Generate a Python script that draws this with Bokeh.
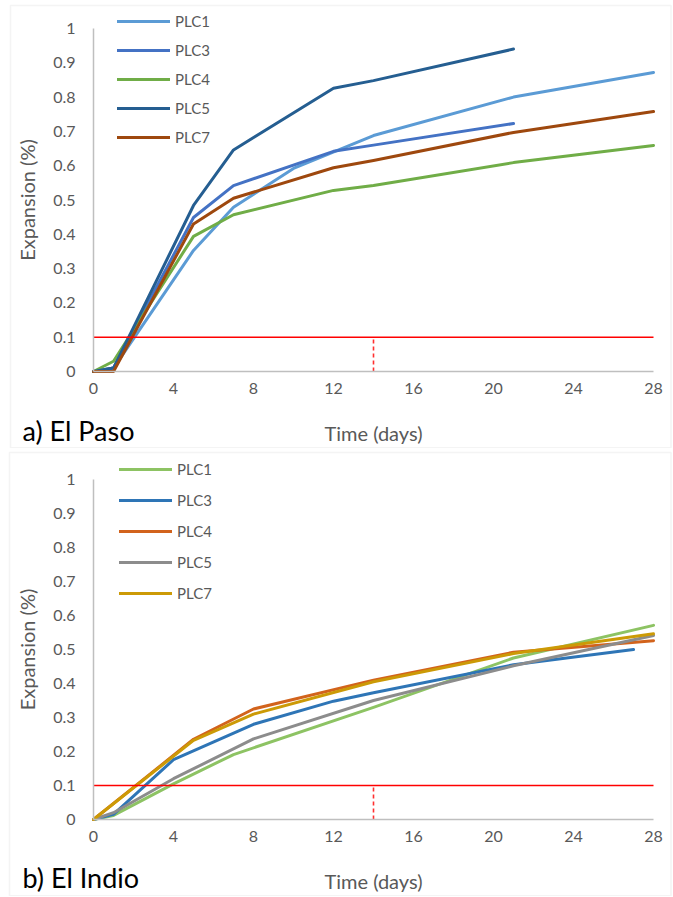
from bokeh.plotting import figure
from bokeh.models import (Range1d, FixedTicker, CustomJSTickFormatter, Label,
                          Legend, LegendItem, BoxAnnotation)
from bokeh.layouts import column
from bokeh.embed import file_html
from bokeh.resources import INLINE

# ---------------- data ----------------
series_names = ["PLC1", "PLC3", "PLC4", "PLC5", "PLC7"]

# a) El Paso
paso_days = {
    "PLC1": [0, 1, 5, 7, 10, 14, 21, 28],
    "PLC3": [0, 1, 5, 7, 12, 14, 21],
    "PLC4": [0, 1, 5, 7, 12, 14, 21, 28],
    "PLC5": [0, 1, 5, 7, 12, 14, 21],
    "PLC7": [0, 1, 5, 7, 12, 14, 21, 28],
}
paso_vals = {
    "PLC1": [0, 0.01, 0.353, 0.479, 0.592, 0.688, 0.80, 0.872],
    "PLC3": [0, 0.01, 0.449, 0.542, 0.642, 0.66, 0.723],
    "PLC4": [0, 0.03, 0.394, 0.457, 0.528, 0.542, 0.609, 0.659],
    "PLC5": [0, 0.01, 0.484, 0.646, 0.826, 0.848, 0.94],
    "PLC7": [0, 0, 0.43, 0.505, 0.594, 0.615, 0.697, 0.758],
}
paso_colors = ["#5B9BD5", "#4472C4", "#70AD47", "#255E91", "#9E480E"]

# b) El Indio
indio_days = {
    "PLC1": [0, 1, 4, 7, 14, 21, 28],
    "PLC3": [0, 1, 4, 8, 12, 14, 21, 27],
    "PLC4": [0, 5, 8, 14, 21, 28],
    "PLC5": [0, 1, 4, 8, 14, 21, 28],
    "PLC7": [0, 5, 8, 14, 21, 28],
}
indio_vals = {
    "PLC1": [0, 0.012, 0.105, 0.191, 0.33, 0.475, 0.571],
    "PLC3": [0, 0.015, 0.176, 0.28, 0.348, 0.373, 0.455, 0.50],
    "PLC4": [0, 0.236, 0.325, 0.41, 0.492, 0.526],
    "PLC5": [0, 0.02, 0.12, 0.237, 0.35, 0.452, 0.541],
    "PLC7": [0, 0.233, 0.31, 0.405, 0.488, 0.546],
}
indio_colors = ["#8DC363", "#2E75B6", "#D2631C", "#8C8C8C", "#CC9A06"]

x_ticks = [0, 4, 8, 12, 16, 20, 24, 28]
y_ticks = [0, 0.1, 0.2, 0.3, 0.4, 0.5, 0.6, 0.7, 0.8, 0.9, 1.0]
limit_expansion = 0.1
limit_day = 14

FONT = "Lato"
GREY_TXT = "#595959"
W = 672
FL, FW = 93, 560   # px position of day 0 / px width of 0..28 days


def make_panel(title, days, vals, colors, height, top_px, zero_px,
               leg_x, leg_top, leg_spacing, box_top, box_left, title_dy):
    xs = x_ticks[-1] / FW              # days per px
    ys = 1.0 / (zero_px - top_px)      # expansion per px
    x_range = Range1d(-FL * xs, (W - FL) * xs)
    y_range = Range1d(-(height - zero_px) * ys, zero_px * ys)

    p = figure(width=W, height=height, x_range=x_range, y_range=y_range,
               output_backend="svg", toolbar_location=None,
               min_border=0, min_border_left=0, min_border_right=0,
               min_border_top=0, min_border_bottom=0)
    p.title.text = ""
    p.grid.visible = False
    p.outline_line_color = None
    p.background_fill_color = "white"
    p.border_fill_color = "white"

    for ax in (p.xaxis[0], p.yaxis[0]):
        ax.fixed_location = 0
        ax.axis_line_color = "#BFBFBF"
        ax.axis_line_width = 1.5
        ax.major_tick_line_color = None
        ax.minor_tick_line_color = None
        ax.major_tick_out = 0
        ax.major_tick_in = 0
        ax.major_label_text_font = FONT
        ax.major_label_text_font_size = "16px"
        ax.major_label_text_color = GREY_TXT
        ax.axis_label_text_font = FONT
        ax.axis_label_text_font_size = "20px"
        ax.axis_label_text_font_style = "normal"
        ax.axis_label_text_color = GREY_TXT

    p.xaxis.bounds = (x_ticks[0], x_ticks[-1])
    p.yaxis.bounds = (y_ticks[0], y_ticks[-1])
    p.xaxis.ticker = FixedTicker(ticks=x_ticks)
    p.yaxis.ticker = FixedTicker(ticks=y_ticks)
    p.yaxis.formatter = CustomJSTickFormatter(code="return (Math.round(tick*10)/10).toString();")
    p.xaxis.axis_label = "Time (days)"
    p.yaxis.axis_label = "Expansion (%)"
    p.xaxis.major_label_standoff = 11
    p.xaxis.axis_label_standoff = 24
    p.yaxis.major_label_standoff = 18
    p.yaxis.axis_label_standoff = 11

    items = []
    for name, c in zip(series_names, colors):
        r = p.line(days[name], vals[name], line_color=c, line_width=3,
                   line_cap="round", line_join="round")
        items.append(LegendItem(label=name, renderers=[r]))

    p.segment(x0=[x_ticks[0]], y0=[limit_expansion], x1=[x_ticks[-1]], y1=[limit_expansion],
              line_color="#FF0000", line_width=1.5)
    p.segment(x0=[limit_day], y0=[0], x1=[limit_day], y1=[limit_expansion],
              line_color="#FF3030", line_width=1.6, line_dash="4 3")

    n = len(series_names)
    leg_h = n * 20 + (n - 1) * leg_spacing
    leg = Legend(items=items, location=(leg_x, height - leg_top - leg_h),
                 orientation="vertical",
                 glyph_width=53, glyph_height=20, label_height=20,
                 spacing=leg_spacing, padding=0, margin=0, label_standoff=5,
                 label_text_font=FONT, label_text_font_size="15px",
                 label_text_color=GREY_TXT, border_line_color=None,
                 background_fill_alpha=0)
    p.add_layout(leg, "center")

    p.add_layout(Label(x=(22 - FL) * xs, y=title_dy * ys,
                       text=title, text_baseline="middle", text_font=FONT,
                       text_font_size="27px", text_color="black"))

    p.add_layout(BoxAnnotation(left=(box_left - FL) * xs, right=(W - 1.5 - FL) * xs,
                               top=(zero_px - box_top) * ys,
                               bottom=(zero_px - height + 0.75) * ys,
                               fill_alpha=0, line_color="#D9D9D9", line_width=1.5))
    return p


top = make_panel("a) El Paso", paso_days, paso_vals, paso_colors, height=448,
                 top_px=28, zero_px=371, leg_x=117, leg_top=11, leg_spacing=9,
                 box_top=5, box_left=10, title_dy=-59)
bottom = make_panel("b) El Indio", indio_days, indio_vals, indio_colors, height=448,
                    top_px=31, zero_px=371, leg_x=119, leg_top=11, leg_spacing=11,
                    box_top=4, box_left=9, title_dy=-58)

layout = column(top, bottom, spacing=0)
open("out.html", "w").write(file_html(layout, INLINE))
